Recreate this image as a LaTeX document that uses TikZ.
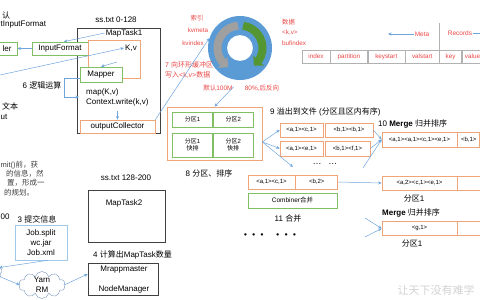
\documentclass[tikz,border=0pt]{standalone}
\usepackage{fontspec}
\setmainfont{Liberation Sans}
\newfontfamily\cjk{Noto Sans CJK SC}
\usetikzlibrary{arrows.meta,bending,positioning,shapes.symbols}
\definecolor{OrangeLine}{RGB}{240,165,120}
\definecolor{GreenLine}{RGB}{130,190,100}
\definecolor{BlueLine}{RGB}{110,165,220}
\definecolor{JobBlue}{RGB}{160,200,235}
\definecolor{CloudLine}{RGB}{120,150,190}
\definecolor{RedText}{RGB}{235,70,70}
\definecolor{RingBlue}{RGB}{91,155,213}
\definecolor{RingGrey}{RGB}{160,160,160}
\definecolor{RingGreen}{RGB}{84,150,50}
\newcommand{\zh}[1]{{\cjk #1}}

\begin{document}
\begin{tikzpicture}[x=1pt, y=-1pt,
  every node/.style={font=\fontsize{8}{9.5}\selectfont, inner sep=1pt},
  gbox/.style={draw=GreenLine, fill=white, line width=0.7pt, inner sep=0pt},
  obox/.style={draw=OrangeLine, fill=white, line width=0.7pt, inner sep=0pt},
  kbox/.style={draw=black!75, line width=0.7pt, inner sep=0pt},
  sm/.style={font=\fontsize{6}{7.5}\selectfont},
  tcell/.style={draw=gray!60, minimum height=13pt, inner sep=0pt, text=RedText,
    font=\fontsize{6.3}{7}\selectfont},
  rlbl/.style={text=RedText, font=\fontsize{6.3}{7.5}\selectfont},
  arr/.style={-{Stealth[length=3.5pt,width=3pt]}, draw=BlueLine, line width=0.5pt}
]
\useasboundingbox (0,0) rectangle (480,300);
\clip (0,0) rectangle (480,300);

% ---- MapTask1 ----
\node[anchor=west] (dflt) at (1,15) {\zh{认}};
\node[anchor=west] (tif)  at (-0.5,25) {tInputFormat};
\node[kbox, minimum width=83pt, minimum height=105pt] (mt1) at (118.5,80.5) {};
\node[gbox, minimum width=20pt, minimum height=13pt] (rr)   at (7,48.5)  {ler};
\node[gbox, minimum width=56pt, minimum height=13pt] (inpf) at (60,48.5) {InputFormat};
\node (ss1)    at (116,20) {ss.txt 0-128};
\node (mt1lbl) at (124,33) {MapTask1};
\node[obox, fill=none, minimum width=52pt, minimum height=38pt] (kvbox) at (114,59) {};
\node (kv) at (131,48) {K,v};
\node[gbox, minimum width=42pt, minimum height=15pt] (mapper) at (101,74.5) {Mapper};
\node (logic) at (42,85) {6 \zh{逻辑运算}};
\node[anchor=west] (mapf) at (85,92)  {map(K,v)};
\node[anchor=west] (ctx)  at (85,102) {Context.write(k,v)};
\node[obox, minimum width=75pt, minimum height=13pt] (oc) at (117.5,126.5) {outputCollector};
\node[anchor=west] (txt) at (1,106)    {\zh{文本}};
\node[anchor=west] (inp) at (-0.5,117) {ut};
\coordinate (kvIn)  at (0,75);
\coordinate (kvOut) at (117,62);
\coordinate (mapIn) at (79,97);

\draw[arr] (inpf.west) -- (rr.east);
\draw[arr] (mt1lbl.west) -- (inpf.60);
\draw[arr] (kvIn) -- (kv.west);
\draw[arr] (kvOut) -- (mapper.north);
\draw[arr] (mapper.190) -- ++(-15,0) |- (mapIn);
\draw[arr, shorten <=4pt] (ctx.south -| oc.north) -- (oc.north);

% ---- ring buffer ----
\node[circle, minimum size=64pt, inner sep=0pt] (ring) at (240,48) {};
\begin{scope}[shift={(240,48)}, x=1pt, y=1pt]
  \fill[RingBlue, even odd rule] (0,0) circle (32) (0,0) circle (13);
  \draw[RingGrey, line width=8pt, -{Triangle[length=7pt,width=14pt]}]
    (95:22.5) arc[start angle=95, end angle=238, radius=22.5];
  \draw[RingGreen, line width=8pt, -{Triangle[length=7pt,width=14pt]}]
    (82:22.5) arc[start angle=82, end angle=-52, radius=22.5];
\end{scope}
\node[rlbl] (idx)  at (197,18) {\zh{索引}};
\node[rlbl] (kvm)  at (198,30) {kvmeta};
\node[rlbl] (kvi)  at (193,43) {kvindex};
\node[rlbl, anchor=west] (dat)  at (281,22) {\zh{数据}};
\node[rlbl, anchor=west] (kvd)  at (281,33) {<k,v>};
\node[rlbl, anchor=west] (bufi) at (281,43) {bufindex};
\node[rlbl, font=\fontsize{7}{8}\selectfont, anchor=west] (wr1) at (164,65) {7 \zh{向环形缓冲区}};
\node[rlbl, font=\fontsize{7}{8}\selectfont, anchor=west] (wr2) at (164,75) {\zh{写入}<k,v>\zh{数据}};
\node[rlbl, font=\fontsize{6.5}{7.5}\selectfont] (dft) at (218,88) {\zh{默认}100M};
\node[rlbl, font=\fontsize{6.5}{7.5}\selectfont] (pct) at (262,88) {80\%,\zh{后反向}};

\draw[arr] (oc.north east) -- (ring.162);

% ---- meta / records ----
\node[rlbl, font=\fontsize{6.5}{7}\selectfont] (meta) at (422,34) {Meta};
\node[rlbl, font=\fontsize{6.5}{7}\selectfont] (rec)  at (460,33) {Records};
\coordinate (metaEnd) at (388,34);
\coordinate (recEnd)  at (486,33);
\draw[arr] (meta.west) -- (metaEnd);
\draw[arr] (rec.east) -- (recEnd);
\node[tcell, minimum width=28pt] (tIdx) at (316,56.5) {index};
\node[tcell, minimum width=37pt, right=0pt of tIdx]  (tPart) {partition};
\node[tcell, minimum width=37pt, right=0pt of tPart] (tKs)   {keystart};
\node[tcell, minimum width=34pt, right=0pt of tKs]   (tVs)   {valstart};
\node[tcell, minimum width=22pt, right=0pt of tVs]   (tKey)  {key};
\node[tcell, minimum width=21pt, right=0pt of tKey]  (tVal)  {value};
\draw[gray!60] (tKey.north west) -- ++(0,-27);

% ---- partition & sort ----
\node[obox, fill=none, minimum width=95pt, minimum height=53pt] (part) at (214.5,133.5) {};
\node[gbox, sm, minimum width=40pt, minimum height=15pt] (p1) at (192.5,119.5) {\zh{分区}1};
\node[gbox, sm, minimum width=40pt, minimum height=15pt, right=0pt of p1] (p2) {\zh{分区}2};
\node[gbox, sm, minimum width=40pt, minimum height=24pt, align=center] (q1) at (192.5,145) {\zh{分区}1\\\zh{快排}};
\node[gbox, sm, minimum width=40pt, minimum height=24pt, align=center, right=0pt of q1] (q2) {\zh{分区}2\\\zh{快排}};
\node (sortlbl) at (209,173) {8 \zh{分区、排序}};
\draw[arr, shorten <=9pt] (ring.south) -- (part.north);

% ---- spill ----
\node[anchor=west] (spilllbl) at (269,112) {9 \zh{溢出到文件} (\zh{分区且区内有序})};
\node[obox, sm, minimum width=43pt, minimum height=14pt] (s11) at (301.5,130)   {<a,1><c,1>};
\node[obox, sm, minimum width=48pt, minimum height=14pt] (s12) at (349,130)     {<b,1><b,1>};
\node[obox, sm, minimum width=43pt, minimum height=15pt] (s21) at (301.5,148.5) {<a,1><e,1>};
\node[obox, sm, minimum width=45pt, minimum height=15pt] (s22) at (347.5,148.5) {<b,1><f,1>};
\node[font=\fontsize{9}{10}\selectfont] (dots1) at (325,164) {…\hspace{7pt}…};
\coordinate (more1) at (293,167);
\coordinate (more2) at (363,168);
\draw[arr] (part.-10) -- (s11.west);
\draw[arr] (part.-10) -- (s21.west);
\draw[arr] (part.-10) -- (more1);

% ---- merge ----
\node[anchor=west] (m1lbl) at (377,124) {10 \textbf{Merge} \zh{归并排序}};
\node[obox, sm, minimum width=75pt, minimum height=15pt] (m11) at (419.5,139.5) {<a,1><a,1><c,1><e,1>};
\node[obox, sm, minimum width=22pt, minimum height=15pt, right=0pt of m11] (m12) {<b,1>};
\draw[arr] (s12.east) -- (m11.west);
\draw[arr] (s22.east) -- (m11.west);
\draw[arr] (more2) -- (m11.west);

% ---- combiner ----
\node[obox, sm, minimum width=47pt, minimum height=14pt] (c1) at (271.5,182) {<a,1><c,1>};
\node[obox, sm, minimum width=42pt, minimum height=14pt, right=0pt of c1] (c2) {<b,2>};
\node[gbox, font=\fontsize{6.5}{7}\selectfont, minimum width=89pt, minimum height=15pt] (comb) at (292.5,200.5) {Combiner\zh{合并}};
\node (comblbl) at (288,218) {11 \zh{合并}};
\node[font=\bfseries\fontsize{8}{9}\selectfont] (dots2) at (270,236) {•\hspace{5.5pt}•\hspace{5.5pt}•\hspace{13pt}•\hspace{5.5pt}•\hspace{5.5pt}•};

\node[obox, sm, minimum width=75pt, minimum height=14pt] (m21) at (419.5,183) {<a,2><c,1><e,1>};
\node[obox, minimum width=40pt, minimum height=14pt, right=0pt of m21] (m22) {};
\node (m2lbl) at (414,199) {\zh{分区}1};
\node[anchor=west] (m3lbl) at (381,213) {\textbf{Merge} \zh{归并排序}};
\node[obox, sm, minimum width=75pt, minimum height=14pt] (m31) at (419.5,228.5) {<g,1>};
\node[obox, minimum width=40pt, minimum height=14pt, right=0pt of m31] (m32) {};
\node (m3p) at (412,244) {\zh{分区}1};
\coordinate (g1) at (365,218);
\coordinate (g2) at (365,237);
\draw[arr] (c2.east) -- (m21.west);
\draw[arr] (g1) -- (m31.west);
\draw[arr] (g2) -- (m31.west);

% ---- submit / yarn ----
\node[anchor=west, text=black!75, font=\fontsize{7.5}{9}\selectfont] (sub1) at (-0.5,165) {mit()\zh{前，获}};
\node[anchor=west, text=black!75, font=\fontsize{7.5}{9}\selectfont] (sub2) at (5,174)  {\zh{的信息，然}};
\node[anchor=west, text=black!75, font=\fontsize{7.5}{9}\selectfont] (sub3) at (6,183)  {\zh{置，形成一}};
\node[anchor=west, text=black!75, font=\fontsize{7.5}{9}\selectfont] (sub4) at (3,193)  {\zh{的规划。}};
\node[anchor=west] (zero) at (-0.5,217) {00};
\node (sublbl) at (37,219) {3 \zh{提交信息}};
\node[draw=JobBlue, line width=0.7pt, minimum width=52pt, minimum height=35pt, align=center,
  font=\fontsize{8}{10}\selectfont] (job) at (41,242.5) {Job.split\\wc.jar\\Job.xml};
\node[cloud, draw=CloudLine, cloud puffs=9, aspect=1.6, minimum width=30pt, minimum height=22pt] (cli) at (-13,272) {};
\node[cloud, draw=CloudLine, cloud puffs=10, aspect=1.8, minimum width=46pt, minimum height=27pt] (yarn) at (42,285) {};
\node[align=center, font=\fontsize{8}{10}\selectfont] (yarnlbl) at (yarn) {Yarn\\RM};
\node (ss2) at (126,178) {ss.txt 128-200};
\node[kbox, minimum width=77pt, minimum height=52pt] (mt2) at (126.5,216) {};
\node (mt2lbl) at (124,203) {MapTask2};
\node[anchor=west] (cnt) at (92,255) {4 \zh{计算出}MapTask\zh{数量}};
\node[kbox, minimum width=70pt, minimum height=32pt] (mram) at (123,279) {};
\node (mrm) at (124,269.5) {Mrappmaster};
\node (nm)  at (124,289) {NodeManager};
\draw[arr] (job.290) -- (cli.20);
\draw[arr] (cli.-20) -- (yarn.west);
\draw[arr] (yarn.east) -- (mram.172);

\node[text=gray!35, font=\cjk\fontsize{11}{12}\selectfont] (wm) at (436,290) {让天下没有难学};
\end{tikzpicture}
\end{document}
